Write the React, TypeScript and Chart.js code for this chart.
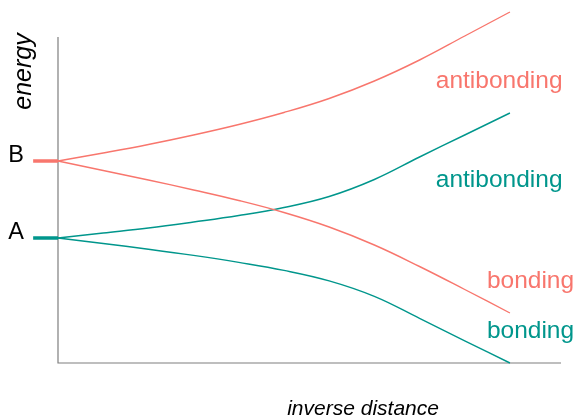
import React, { useEffect, useRef } from "react";
import { Chart, registerables } from "chart.js";

Chart.register(...registerables);

// inverse distance (x) samples
const xValues = [0, 1, 2, 3, 4, 5, 6, 7, 8, 9, 10];
// energies of the four curves
const antibondingB = [20.2, 21.0, 21.85, 22.8, 23.85, 25.05, 26.45, 28.2, 30.3, 32.7, 35.1];
const bondingB = [20.2, 19.25, 18.3, 17.3, 16.25, 15.05, 13.6, 11.8, 9.65, 7.35, 5.0];
const antibondingA = [12.5, 13.0, 13.5, 14.1, 14.75, 15.55, 16.65, 18.35, 20.6, 22.8, 25.0];
const bondingA = [12.5, 11.95, 11.38, 10.76, 10.06, 9.26, 8.21, 6.66, 4.46, 2.21, 0];

// isolated levels
const levelNames = ["B", "A"];
const levelEnergies = [20.2, 12.5];
const levelStartX = -0.55;
const levelLabelX = -1.1;

// curve labels: text, x (left edge), y (baseline)
const curveLabels = ["antibonding", "antibonding", "bonding", "bonding"];
const curveLabelX = [8.36, 8.36, 9.49, 9.49];
const curveLabelY = [27.5, 17.6, 7.5, 2.5];

const SALMON = "#F8766D";
const TEAL = "#00968C";
const curveLabelColors = [SALMON, TEAL, SALMON, TEAL];
const levelColors = [SALMON, TEAL];

const FONT = '"Liberation Sans", Arial, Helvetica, sans-serif';

const toPoints = (ys: number[]) => xValues.map((x, i) => ({ x, y: ys[i] }));

export default function App() {
  const ref = useRef<HTMLCanvasElement | null>(null);

  useEffect(() => {
    document.body.style.margin = "0";
    const canvas = ref.current;
    if (!canvas) return;

    const decor = {
      id: "decor",
      beforeDatasetsDraw(chart: any) {
        const { ctx, chartArea } = chart;
        ctx.save();
        ctx.strokeStyle = "#7f7f7f";
        ctx.lineWidth = 1.2;
        ctx.beginPath();
        ctx.moveTo(chartArea.left, chartArea.top);
        ctx.lineTo(chartArea.left, chartArea.bottom);
        ctx.lineTo(chartArea.right, chartArea.bottom);
        ctx.stroke();
        ctx.restore();
      },
      afterDraw(chart: any) {
        const { ctx, scales } = chart;
        const xs = scales.x;
        const ys = scales.y;
        ctx.save();
        // curve labels
        ctx.font = `24.5px ${FONT}`;
        ctx.textAlign = "left";
        ctx.textBaseline = "alphabetic";
        curveLabels.forEach((t, i) => {
          ctx.fillStyle = curveLabelColors[i];
          ctx.fillText(t, xs.getPixelForValue(curveLabelX[i]), ys.getPixelForValue(curveLabelY[i]));
        });
        // level labels
        ctx.font = `23.5px ${FONT}`;
        ctx.fillStyle = "#000";
        levelNames.forEach((t, i) => {
          ctx.fillText(t, xs.getPixelForValue(levelLabelX), ys.getPixelForValue(levelEnergies[i]) + 1);
        });
        // axis titles
        ctx.font = `italic 21px ${FONT}`;
        ctx.textAlign = "center";
        ctx.fillText("inverse distance", xs.getPixelForValue(6.75), ys.getPixelForValue(-5.2));
        ctx.save();
        ctx.translate(31, ys.getPixelForValue(29.15));
        ctx.rotate(-Math.PI / 2);
        ctx.font = `italic 25px ${FONT}`;
        ctx.fillText("energy", 0, 0);
        ctx.restore();
        ctx.restore();
      },
    };

    const curve = (data: number[], color: string) => ({
      data: toPoints(data),
      borderColor: color,
      borderWidth: 1.4,
      pointRadius: 0,
      tension: 0.4,
      clip: false as any,
      fill: false,
    });

    const levels = levelEnergies.map((e, i) => ({
      data: [
        { x: levelStartX, y: e },
        { x: 0, y: e },
      ],
      borderColor: levelColors[i],
      borderWidth: 3.5,
      pointRadius: 0,
      tension: 0,
      clip: false as any,
      fill: false,
    }));

    const chart = new Chart(canvas, {
      type: "line",
      data: {
        datasets: [
          curve(antibondingB, SALMON),
          curve(bondingB, SALMON),
          curve(antibondingA, TEAL),
          curve(bondingA, TEAL),
          ...levels,
        ],
      },
      options: {
        responsive: false,
        animation: false,
        layout: { padding: { left: 58, right: 15, top: 37, bottom: 56 } },
        plugins: { legend: { display: false }, tooltip: { enabled: false }, title: { display: false } },
        scales: {
          x: { type: "linear", min: 0, max: 11.13, display: false },
          y: { type: "linear", min: 0, max: 32.6, display: false },
        },
      },
      plugins: [decor],
    });
    return () => chart.destroy();
  }, []);

  return <canvas ref={ref} width={576} height={419} style={{ display: "block", width: 576, height: 419 }} />;
}
